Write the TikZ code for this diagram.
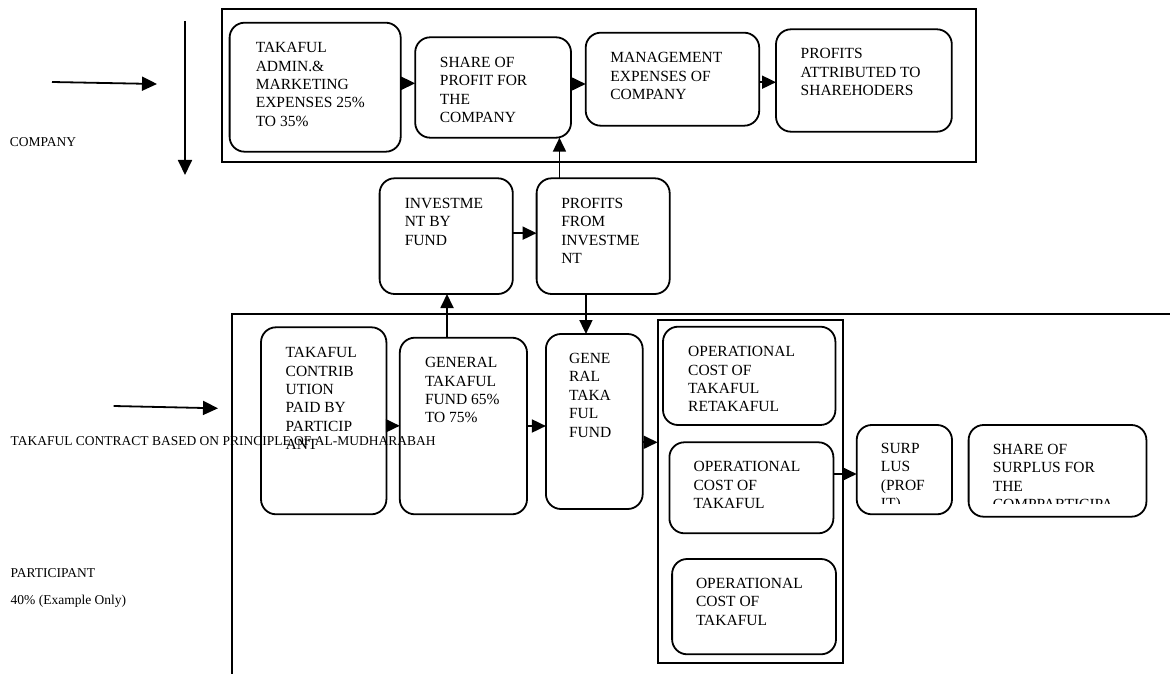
\documentclass[tikz,border=0pt]{standalone}
\usepackage{fontspec}
\setmainfont{Liberation Serif}
\usepackage{tikz}
\usetikzlibrary{positioning, arrows.meta}

\tikzset{
    blk/.style={draw, line width=1.8pt, rounded corners=15pt, anchor=north west, inner sep=0pt, outer sep=0pt},
    frame/.style={draw, line width=1.8pt, anchor=north west, inner sep=0pt, outer sep=0pt},
    txt/.style={anchor=north west, inner sep=0pt, align=left, font=\fontsize{15.5}{18.4}\selectfont},
    lbl/.style={anchor=base west, inner sep=0pt, font=\fontsize{13.5}{15}\selectfont},
    arr/.style={line width=1.8pt, -{Triangle[length=14pt, width=13pt]}},
}

\begin{document}
\begin{tikzpicture}[x=1pt, y=-1pt]
    \useasboundingbox (0,0) rectangle (1170,674);
    % company side
    \node[frame, minimum width=754pt, minimum height=152.7pt] (cmp) at (222,9.3) {};
    \node[blk, minimum width=171.1pt, minimum height=129pt] (admin) at (229.6,22.7) {};
    \node[blk, minimum width=155.8pt, minimum height=100.4pt] (share) at (415.2,37.3) {};
    \node[blk, minimum width=173.5pt, minimum height=93pt] (mgmt) at (585.7,32.7) {};
    \node[blk, minimum width=175.8pt, minimum height=102.4pt] (prof) at (776,29.3) {};
    \node[txt] (adminT) at ([shift={(26,19.5)}]admin.north west) {TAKAFUL\\ADMIN.\&\\MARKETING\\EXPENSES 25\%\\TO 35\%};
    \node[txt] (shareT) at ([shift={(24.5,19.5)}]share.north west) {SHARE OF\\PROFIT FOR\\THE\\COMPANY};
    \node[txt] (mgmtT) at ([shift={(24.5,19.5)}]mgmt.north west) {MANAGEMENT\\EXPENSES OF\\COMPANY};
    \node[txt] (profT) at ([shift={(24.5,19)}]prof.north west) {PROFITS\\ATTRIBUTED TO\\SHAREHODERS};
    \draw[arr] ([shift={(0,-3.9)}]admin.east) coordinate (a1) -- (a1 -| share.west);
    \draw[arr] ([shift={(0,-3.5)}]share.east) coordinate (a2) -- (a2 -| mgmt.west);
    \draw[arr] ([shift={(0,3)}]mgmt.east) coordinate (a3) -- (a3 -| prof.west);
    % investment
    \node[blk, minimum width=133.2pt, minimum height=115.7pt] (inv) at (379.6,178.3) {};
    \node[blk, minimum width=133.1pt, minimum height=115.7pt] (pfi) at (536.6,178.3) {};
    \node[txt] (invT) at ([shift={(25,19.5)}]inv.north west) {INVESTME\\NT BY\\FUND};
    \node[txt] (pfiT) at ([shift={(24.5,19.5)}]pfi.north west) {PROFITS\\FROM\\INVESTME\\NT};
    \draw[arr] ([shift={(0,-3)}]inv.east) coordinate (a4) -- (a4 -| pfi.west);
    \draw[arr] ([shift={(-43.7,0)}]pfi.north) coordinate (a5) -- (a5 |- share.south);
    % participant side
    \coordinate (pc) at (232,314);
    \draw[line width=1.8pt] (1175,314) -- (pc) -- (232,680);
    \node[blk, minimum width=125.4pt, minimum height=187pt] (contrib) at (261,327.3) {};
    \node[blk, minimum width=127.2pt, minimum height=176.6pt] (gtf) at (399.8,337.7) {};
    \node[blk, minimum width=96.8pt, minimum height=175pt] (gtf2) at (545.9,334) {};
    \node[txt] (contribT) at ([shift={(24.5,20)}]contrib.north west) {TAKAFUL\\CONTRIB\\UTION\\PAID BY\\PARTICIP\\ANT};
    \node[txt] (gtfT) at ([shift={(25,19.5)}]gtf.north west) {GENERAL\\TAKAFUL\\FUND 65\%\\TO 75\%};
    \node[txt] (gtf2T) at ([shift={(23,19)}]gtf2.north west) {GENE\\RAL\\TAKA\\FUL\\FUND};
    \draw[arr] ([shift={(-16.4,0)}]gtf.north) coordinate (a6) -- (a6 |- inv.south);
    \draw[arr] ([shift={(-17.2,0)}]pfi.south) coordinate (a7) -- (a7 |- gtf2.north);
    \draw[arr] ([shift={(0,5)}]contrib.east) coordinate (a8) -- (a8 -| gtf.west);
    \draw[arr] (gtf.east) -- (gtf.east -| gtf2.west);
    % operational costs
    \node[frame, minimum width=185.6pt, minimum height=343.3pt] (ops) at (657.6,320) {};
    \node[blk, minimum width=172.4pt, minimum height=98.3pt] (opA) at (663,326.7) {};
    \node[blk, minimum width=164pt, minimum height=91pt] (opB) at (669.4,442.3) {};
    \node[blk, minimum width=163.9pt, minimum height=95.3pt] (opC) at (672.1,559) {};
    \node[txt] (opAT) at ([shift={(25,19.5)}]opA.north west) {OPERATIONAL\\COST OF\\TAKAFUL\\RETAKAFUL};
    \node[txt] (opBT) at ([shift={(24,19)}]opB.north west) {OPERATIONAL\\COST OF\\TAKAFUL};
    \node[txt] (opCT) at ([shift={(23.7,19)}]opC.north west) {OPERATIONAL\\COST OF\\TAKAFUL};
    \draw[arr] ([shift={(0,20.8)}]gtf2.east) coordinate (a9) -- (a9 -| ops.west);
    % surplus
    \node[blk, minimum width=95.3pt, minimum height=89.3pt] (surp) at (856.7,425) {};
    \node[blk, minimum width=177.8pt, minimum height=91.7pt] (shs) at (968.6,425) {};
    \begin{scope}
        \clip (surp.north west) rectangle (1150,503.5);
        \node[txt] (surpT) at ([shift={(24,18)}]surp.north west) {SURP\\LUS\\(PROF\\IT)};
        \node[txt] (shsT) at ([shift={(24,19)}]shs.north west) {SHARE OF\\SURPLUS FOR\\THE\\COMPPARTICIPA};
    \end{scope}
    \draw[arr] ([shift={(0,-13.8)}]opB.east) coordinate (a10) -- (a10 -| surp.west);
    % side labels
    \coordinate (c1) at (52,82);
    \coordinate (c2) at (157,84);
    \coordinate (d1) at (185,21);
    \coordinate (d2) at (185,175);
    \coordinate (p1) at (113.6,406);
    \coordinate (p2) at (218,408.3);
    \draw[arr, -{Triangle[length=15pt, width=14pt]}] (c1) -- (c2);
    \draw[arr, -{Triangle[length=15pt, width=14pt]}] (d1) -- (d2);
    \draw[arr, -{Triangle[length=15pt, width=14pt]}] (p1) -- (p2);
    \node[lbl] (lcmp) at (9.6,146.3) {COMPANY};
    \node[lbl] (lcon) at (10.5,445) {TAKAFUL CONTRACT BASED ON PRINCIPLE OF AL-MUDHARABAH};
    \node[lbl] (lpar) at (10.5,577.6) {PARTICIPANT};
    \node[lbl] (lpct) at (10.5,604.3) {40\% (Example Only)};
\end{tikzpicture}
\end{document}
